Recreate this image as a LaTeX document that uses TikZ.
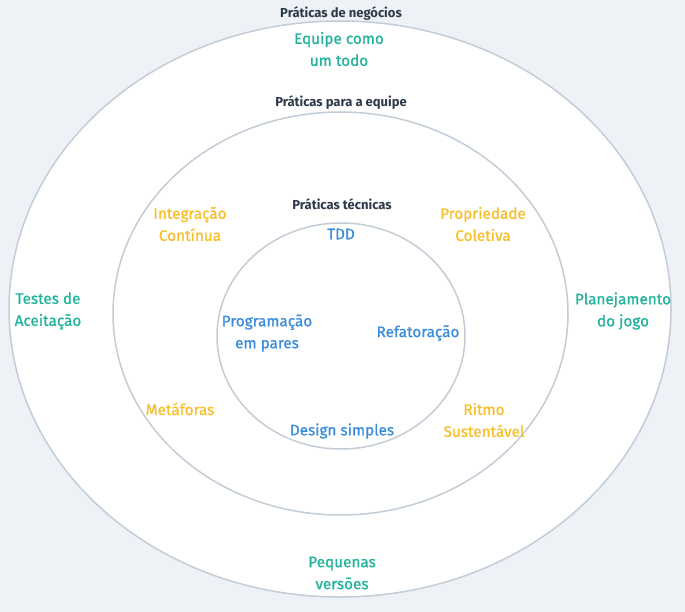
\documentclass[tikz,border=0pt]{standalone}
\usepackage{fontspec}
\setmainfont{Fira Sans}
\newfontfamily\medfont{Fira Sans}[FakeBold=0.9]
\definecolor{bgc}{HTML}{EEF2F6}
\definecolor{ringc}{HTML}{C3CDD8}
\definecolor{darkc}{HTML}{2D3A4A}
\definecolor{tealc}{HTML}{22B39C}
\definecolor{yellc}{HTML}{F8BF2C}
\definecolor{bluec}{HTML}{3A8DDB}
\tikzset{
  ring/.style={draw=ringc, line width=1.5pt, fill=white},
  head/.style={font=\fontsize{13}{15}\selectfont\bfseries, text=darkc, inner sep=0pt},
  lab/.style={font=\medfont\fontsize{15.3}{22}\selectfont, align=center, inner sep=0pt},
  biz/.style={lab, text=tealc},
  team/.style={lab, text=yellc},
  tech/.style={lab, text=bluec}
}
\begin{document}
\begin{tikzpicture}[x=1pt,y=-1pt]
\fill[bgc] (0,0) rectangle (685,612);
\useasboundingbox (0,0) rectangle (685,612);
\draw[ring] (340,309) ellipse [x radius=331, y radius=288];
\draw[ring] (340.5,313.5) ellipse [x radius=227.5, y radius=201.5];
\draw[ring] (341,336) ellipse [x radius=124, y radius=113];

\node[head] (hbiz) at (341,14) {Práticas de negócios};
\node[head] (hteam) at (341,103) {Práticas para a equipe};
\node[head] (htech) at (342,204) {Práticas técnicas};

\node[biz] (equipe) at (339,49) {Equipe como\\um todo};
\node[biz] (testes) at (48,311) {Testes de\\Aceitação};
\node[biz] (plan) at (623,311) {Planejamento\\do jogo};
\node[biz] (peq) at (342,573) {Pequenas\\versões};

\node[team] (integ) at (190,224) {Integração\\Contínua};
\node[team] (prop) at (483,224) {Propriedade\\Coletiva};
\node[team] (meta) at (180,409) {Metáforas};
\node[team] (ritmo) at (484,420) {Ritmo\\Sustentável};

\node[tech] (tdd) at (341,234) {TDD};
\node[tech] (prog) at (267,333) {Programação\\em pares};
\node[tech] (refat) at (418,333) {Refatoração};
\node[tech] (design) at (342,431) {Design simples};
\end{tikzpicture}
\end{document}
